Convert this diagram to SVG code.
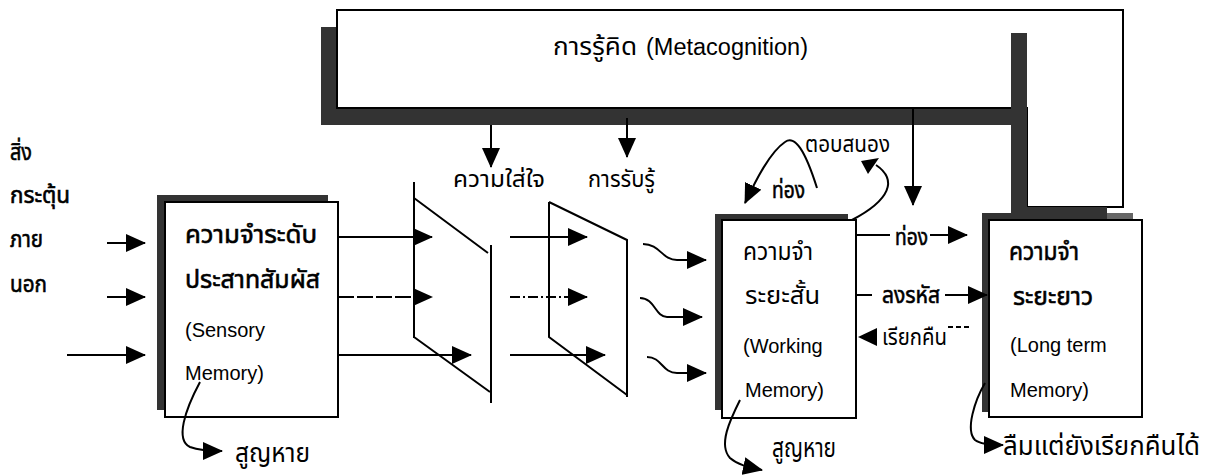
<svg xmlns="http://www.w3.org/2000/svg" width="1209" height="475" viewBox="0 0 1209 475">
<style>
.box{fill:#fff;stroke:#000;stroke-width:2}
.sh{fill:#333}
.ln{stroke:#000;stroke-width:2;fill:none}
.ar{stroke:#000;stroke-width:2;fill:none;marker-end:url(#ah)}
.hd{fill:#000}
.th{font-family:"Noto Sans Thai","Noto Sans","DejaVu Sans",sans-serif;font-size:25px;fill:#000}
.sm{font-size:23px}
.big{font-size:27px}
.b{stroke:#000;stroke-width:0.6}
.en{font-family:"Liberation Sans",Arial,sans-serif;font-size:20px;fill:#000}
</style>
<defs>
<marker id="ah" markerUnits="userSpaceOnUse" markerWidth="20" markerHeight="18" viewBox="0 0 20 18" refX="19" refY="9" orient="auto">
<path d="M0,0 L20,9 L0,18 z" fill="#000"/>
</marker>
</defs>
<rect width="1209" height="475" fill="#fff"/>

<g id="metacognition">
<rect class="sh" x="321" y="27" width="16" height="98"/>
<rect class="sh" x="321" y="108" width="706" height="17"/>
<polygon class="box" points="337,10 1123,10 1123,207 1027,207 1027,108 337,108"/>
<rect class="sh" x="1011" y="33" width="16" height="190"/>
<rect class="sh" x="1011" y="207" width="96" height="15"/>
<rect fill="#666" x="1107" y="213" width="26" height="7"/>
<text class="th" x="553" y="55" textLength="84" lengthAdjust="spacingAndGlyphs" style="font-size:24px">การรู้คิด</text>
<text class="en" x="646" y="55" style="font-size:23.5px">(Metacognition)</text>
</g>

<g id="stimulus">
<text class="th sm b" x="10" y="160" textLength="22" lengthAdjust="spacingAndGlyphs">สิ่ง</text>
<text class="th sm b" x="10" y="203" textLength="60" lengthAdjust="spacingAndGlyphs">กระตุ้น</text>
<text class="th sm b" x="10" y="247" textLength="33" lengthAdjust="spacingAndGlyphs">ภาย</text>
<text class="th sm b" x="10" y="292" textLength="37" lengthAdjust="spacingAndGlyphs">นอก</text>
</g>

<g id="sensory">
<rect class="sh" x="157" y="195" width="171" height="215"/>
<rect class="box" x="165" y="202" width="173" height="215"/>
<text class="th b" x="185" y="243" textLength="132" lengthAdjust="spacingAndGlyphs">ความจำระดับ</text>
<text class="th b" x="185" y="288" textLength="135" lengthAdjust="spacingAndGlyphs">ประสาทสัมผัส</text>
<text class="en" x="185" y="337">(Sensory</text>
<text class="en" x="185" y="380">Memory)</text>
</g>

<g id="attention-filter">
<path class="ln" d="M414,182 V338 M414,198 L488,253 M491,245 V403 M414,337 L490,392"/>
<text class="th sm" x="453" y="187" textLength="92" lengthAdjust="spacingAndGlyphs">ความใส่ใจ</text>
</g>

<g id="perception-filter">
<path class="ln" d="M549,202 V337 L627,395 M549,202 L627,240 V397"/>
<text class="th sm" x="588" y="187" textLength="67" lengthAdjust="spacingAndGlyphs">การรับรู้</text>
</g>

<g id="working-memory">
<rect class="sh" x="715" y="214" width="133" height="196"/>
<rect class="box" x="722" y="220" width="134" height="198"/>
<text class="th" x="743" y="260" textLength="70" lengthAdjust="spacingAndGlyphs">ความจำ</text>
<text class="th" x="745" y="304" textLength="75" lengthAdjust="spacingAndGlyphs">ระยะสั้น</text>
<text class="en" x="743" y="353">(Working</text>
<text class="en" x="745" y="397">Memory)</text>
</g>

<g id="long-term-memory">
<rect class="sh" x="982" y="213" width="125" height="199"/>
<rect class="box" x="989" y="220" width="153" height="197"/>
<text class="th b" x="1009" y="260" textLength="70" lengthAdjust="spacingAndGlyphs">ความจำ</text>
<text class="th b" x="1013" y="305" textLength="80" lengthAdjust="spacingAndGlyphs">ระยะยาว</text>
<text class="en" x="1010" y="352">(Long term</text>
<text class="en" x="1010" y="397">Memory)</text>
</g>

<g id="connectors">
<line class="ar" x1="491" y1="125" x2="491" y2="167"/>
<line class="ar" x1="627" y1="118" x2="627" y2="157"/>
<line class="ar" x1="913" y1="108" x2="913" y2="205"/>

<line class="ar" x1="107" y1="243" x2="145" y2="243"/>
<line class="ar" x1="107" y1="297" x2="145" y2="297"/>
<line class="ar" x1="67" y1="355" x2="145" y2="355"/>

<line class="ar" x1="338" y1="237" x2="432" y2="237"/>
<line class="ar" x1="338" y1="297" x2="432" y2="297" stroke-dasharray="16 3"/>
<line class="ar" x1="338" y1="355" x2="471" y2="355"/>

<line class="ar" x1="510" y1="237" x2="587" y2="237"/>
<line class="ar" x1="510" y1="297" x2="587" y2="297" stroke-dasharray="10 3 2 3"/>
<line class="ar" x1="510" y1="355" x2="605" y2="355"/>

<path class="ar" d="M643,244 C660,244 662,260 677,260 L706,260"/>
<path class="ar" d="M640,298 C655,298 655,317 667,317 L702,317"/>
<path class="ar" d="M647,357 C662,357 662,373 677,373 L706,373"/>

<path class="ar" d="M817,188 C805,150 795,135 785,142 C770,152 756,180 745,203"/>
<text class="th sm b" x="772" y="198" textLength="33" lengthAdjust="spacingAndGlyphs">ท่อง</text>
<path class="ln" d="M852,220 C890,200 898,180 876,165"/>
<polygon class="hd" points="861,161 879,158 868,174"/>
<text class="th sm" x="805" y="152" textLength="85" lengthAdjust="spacingAndGlyphs">ตอบสนอง</text>

<line class="ln" x1="856" y1="235" x2="890" y2="235"/>
<text class="th sm b" x="895" y="245" textLength="33" lengthAdjust="spacingAndGlyphs">ท่อง</text>
<line class="ar" x1="930" y1="235" x2="967" y2="235"/>

<line class="ln" x1="856" y1="295" x2="872" y2="295"/>
<text class="th sm b" x="882" y="303" textLength="58" lengthAdjust="spacingAndGlyphs">ลงรหัส</text>
<line class="ar" x1="945" y1="295" x2="987" y2="295"/>

<polygon class="hd" points="858,337 877,328 877,346"/>
<text class="th sm" x="882" y="345" textLength="65" lengthAdjust="spacingAndGlyphs">เรียกคืน</text>
<line class="ln" x1="948" y1="327" x2="970" y2="327" stroke-dasharray="5 3"/>

<path class="ar" d="M200,382 C185,410 175,440 190,447 C198,450 205,451 222,451"/>
<path class="ar" d="M740,400 C730,420 718,445 730,458 C738,465 748,467 762,470"/>
<path class="ar" d="M985,383 C975,400 965,430 975,440 C980,444 990,445 1003,445"/>
</g>

<g id="loss-labels">
<text class="th big" x="235" y="462" textLength="75" lengthAdjust="spacingAndGlyphs">สูญหาย</text>
<text class="th big" x="772" y="457" textLength="64" lengthAdjust="spacingAndGlyphs">สูญหาย</text>
<text class="th big" x="1003" y="455" textLength="197" lengthAdjust="spacingAndGlyphs">ลืมแต่ยังเรียกคืนได้</text>
</g>
</svg>
